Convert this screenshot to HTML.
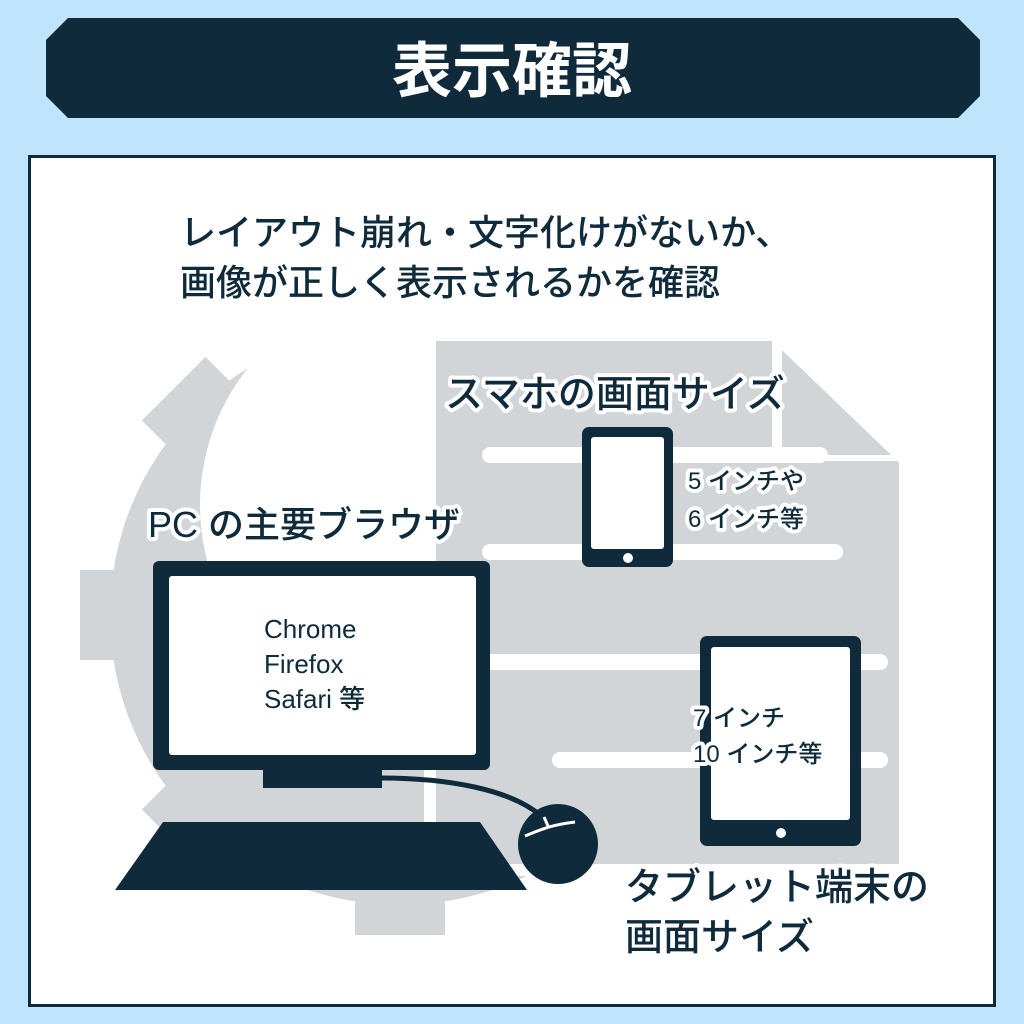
<!DOCTYPE html>
<html><head><meta charset="utf-8"><style>
html,body{margin:0;padding:0;background:#bfe4fb;}
svg{display:block}
text{font-family:"Liberation Sans","Noto Sans CJK JP",sans-serif;font-weight:500}
.h{fill:#0f2b3b;stroke:#fff;stroke-width:8px;paint-order:stroke;stroke-linejoin:round}
</style></head><body>
<svg width="1024" height="1024" viewBox="0 0 1024 1024">
<rect width="1024" height="1024" fill="#bfe4fb"/>
<polygon points="68,18 958,18 980,40 980,96 958,118 68,118 46,96 46,40" fill="#0f2b3b"/>
<text x="512" y="92" text-anchor="middle" font-size="60" font-weight="bold" fill="#fff" style="font-weight:bold">表示確認</text>
<rect x="29.5" y="156.5" width="965" height="849" fill="#fff" stroke="#0f2b3b" stroke-width="3"/>
<!-- gear -->
<g fill="#d1d5d8">
<circle cx="400" cy="615" r="290"/>
<g transform="translate(400,615)">
<rect x="-45" y="-320" width="90" height="60"/>
<rect x="-45" y="-320" width="90" height="60" transform="rotate(45)"/>
<rect x="-45" y="-320" width="90" height="60" transform="rotate(90)"/>
<rect x="-45" y="-320" width="90" height="60" transform="rotate(135)"/>
<rect x="-45" y="-320" width="90" height="60" transform="rotate(180)"/>
<rect x="-45" y="-320" width="90" height="60" transform="rotate(225)"/>
<rect x="-45" y="-320" width="90" height="60" transform="rotate(270)"/>
<rect x="-45" y="-320" width="90" height="60" transform="rotate(315)"/>
</g>
</g>
<circle cx="420" cy="505" r="220" fill="#fff"/>
<path d="M300,770 A200,200 0 0 0 480,560" stroke="#fff" stroke-width="10" fill="none"/>
<!-- document -->
<polygon points="430,335 775,335 905,460 905,870 430,870" fill="#d1d5d8" stroke="#fff" stroke-width="12"/>
<line x1="777" y1="335" x2="777" y2="458" stroke="#fff" stroke-width="10"/>
<line x1="777" y1="458" x2="905" y2="458" stroke="#fff" stroke-width="6"/>
<g stroke="#fff" stroke-width="16" stroke-linecap="round">
<line x1="490" y1="455" x2="820" y2="455"/>
<line x1="490" y1="552" x2="835" y2="552"/>
<line x1="490" y1="662" x2="880" y2="662"/>
<line x1="560" y1="760" x2="880" y2="760"/>
</g>
<!-- heading text -->
<text x="180" y="245" font-size="36" class="h">レイアウト崩れ・文字化けがないか、</text>
<text x="180" y="295" font-size="36" class="h">画像が正しく表示されるかを確認</text>
<text x="445" y="407" font-size="38" class="h">スマホの画面サイズ</text>
<text x="148" y="537" font-size="36" class="h">PC の主要ブラウザ</text>
<!-- phone -->
<rect x="582" y="427" width="91" height="140" rx="7" fill="#0f2b3b"/>
<rect x="591" y="437" width="73" height="112" rx="3" fill="#fff"/>
<circle cx="628" cy="558" r="5" fill="#fff"/>
<text x="688" y="489" font-size="24" class="h">5 インチや</text>
<text x="688" y="527" font-size="24" class="h">6 インチ等</text>
<!-- monitor -->
<rect x="153" y="561" width="337" height="209" rx="6" fill="#0f2b3b"/>
<rect x="169" y="576" width="307" height="179" rx="3" fill="#fff"/>
<rect x="263" y="768" width="119" height="20" fill="#0f2b3b"/>
<path d="M380,778 C450,778 510,790 540,815" stroke="#0f2b3b" stroke-width="5" fill="none"/>
<polygon points="163,822 480,822 527,890 115,890" fill="#0f2b3b"/>
<circle cx="558" cy="844" r="40" fill="#0f2b3b"/>
<path d="M525,836 C540,830 550,825 575,822 M548,826 L544,817" stroke="#fff" stroke-width="3" fill="none"/>
<text x="264" y="638" font-size="26" fill="#0f2b3b">Chrome</text>
<text x="264" y="673" font-size="26" fill="#0f2b3b">Firefox</text>
<text x="264" y="708" font-size="26" fill="#0f2b3b">Safari 等</text>
<!-- tablet -->
<rect x="700" y="636" width="161" height="210" rx="7" fill="#0f2b3b"/>
<rect x="711" y="647" width="139" height="173" rx="3" fill="#fff"/>
<circle cx="781" cy="833" r="5" fill="#fff"/>
<text x="693" y="726" font-size="24" class="h">7 インチ</text>
<text x="693" y="762" font-size="24" class="h">10 インチ等</text>
<text x="625" y="900" font-size="38" class="h">タブレット端末の</text>
<text x="625" y="950" font-size="38" class="h">画面サイズ</text>
</svg>
</body></html>
